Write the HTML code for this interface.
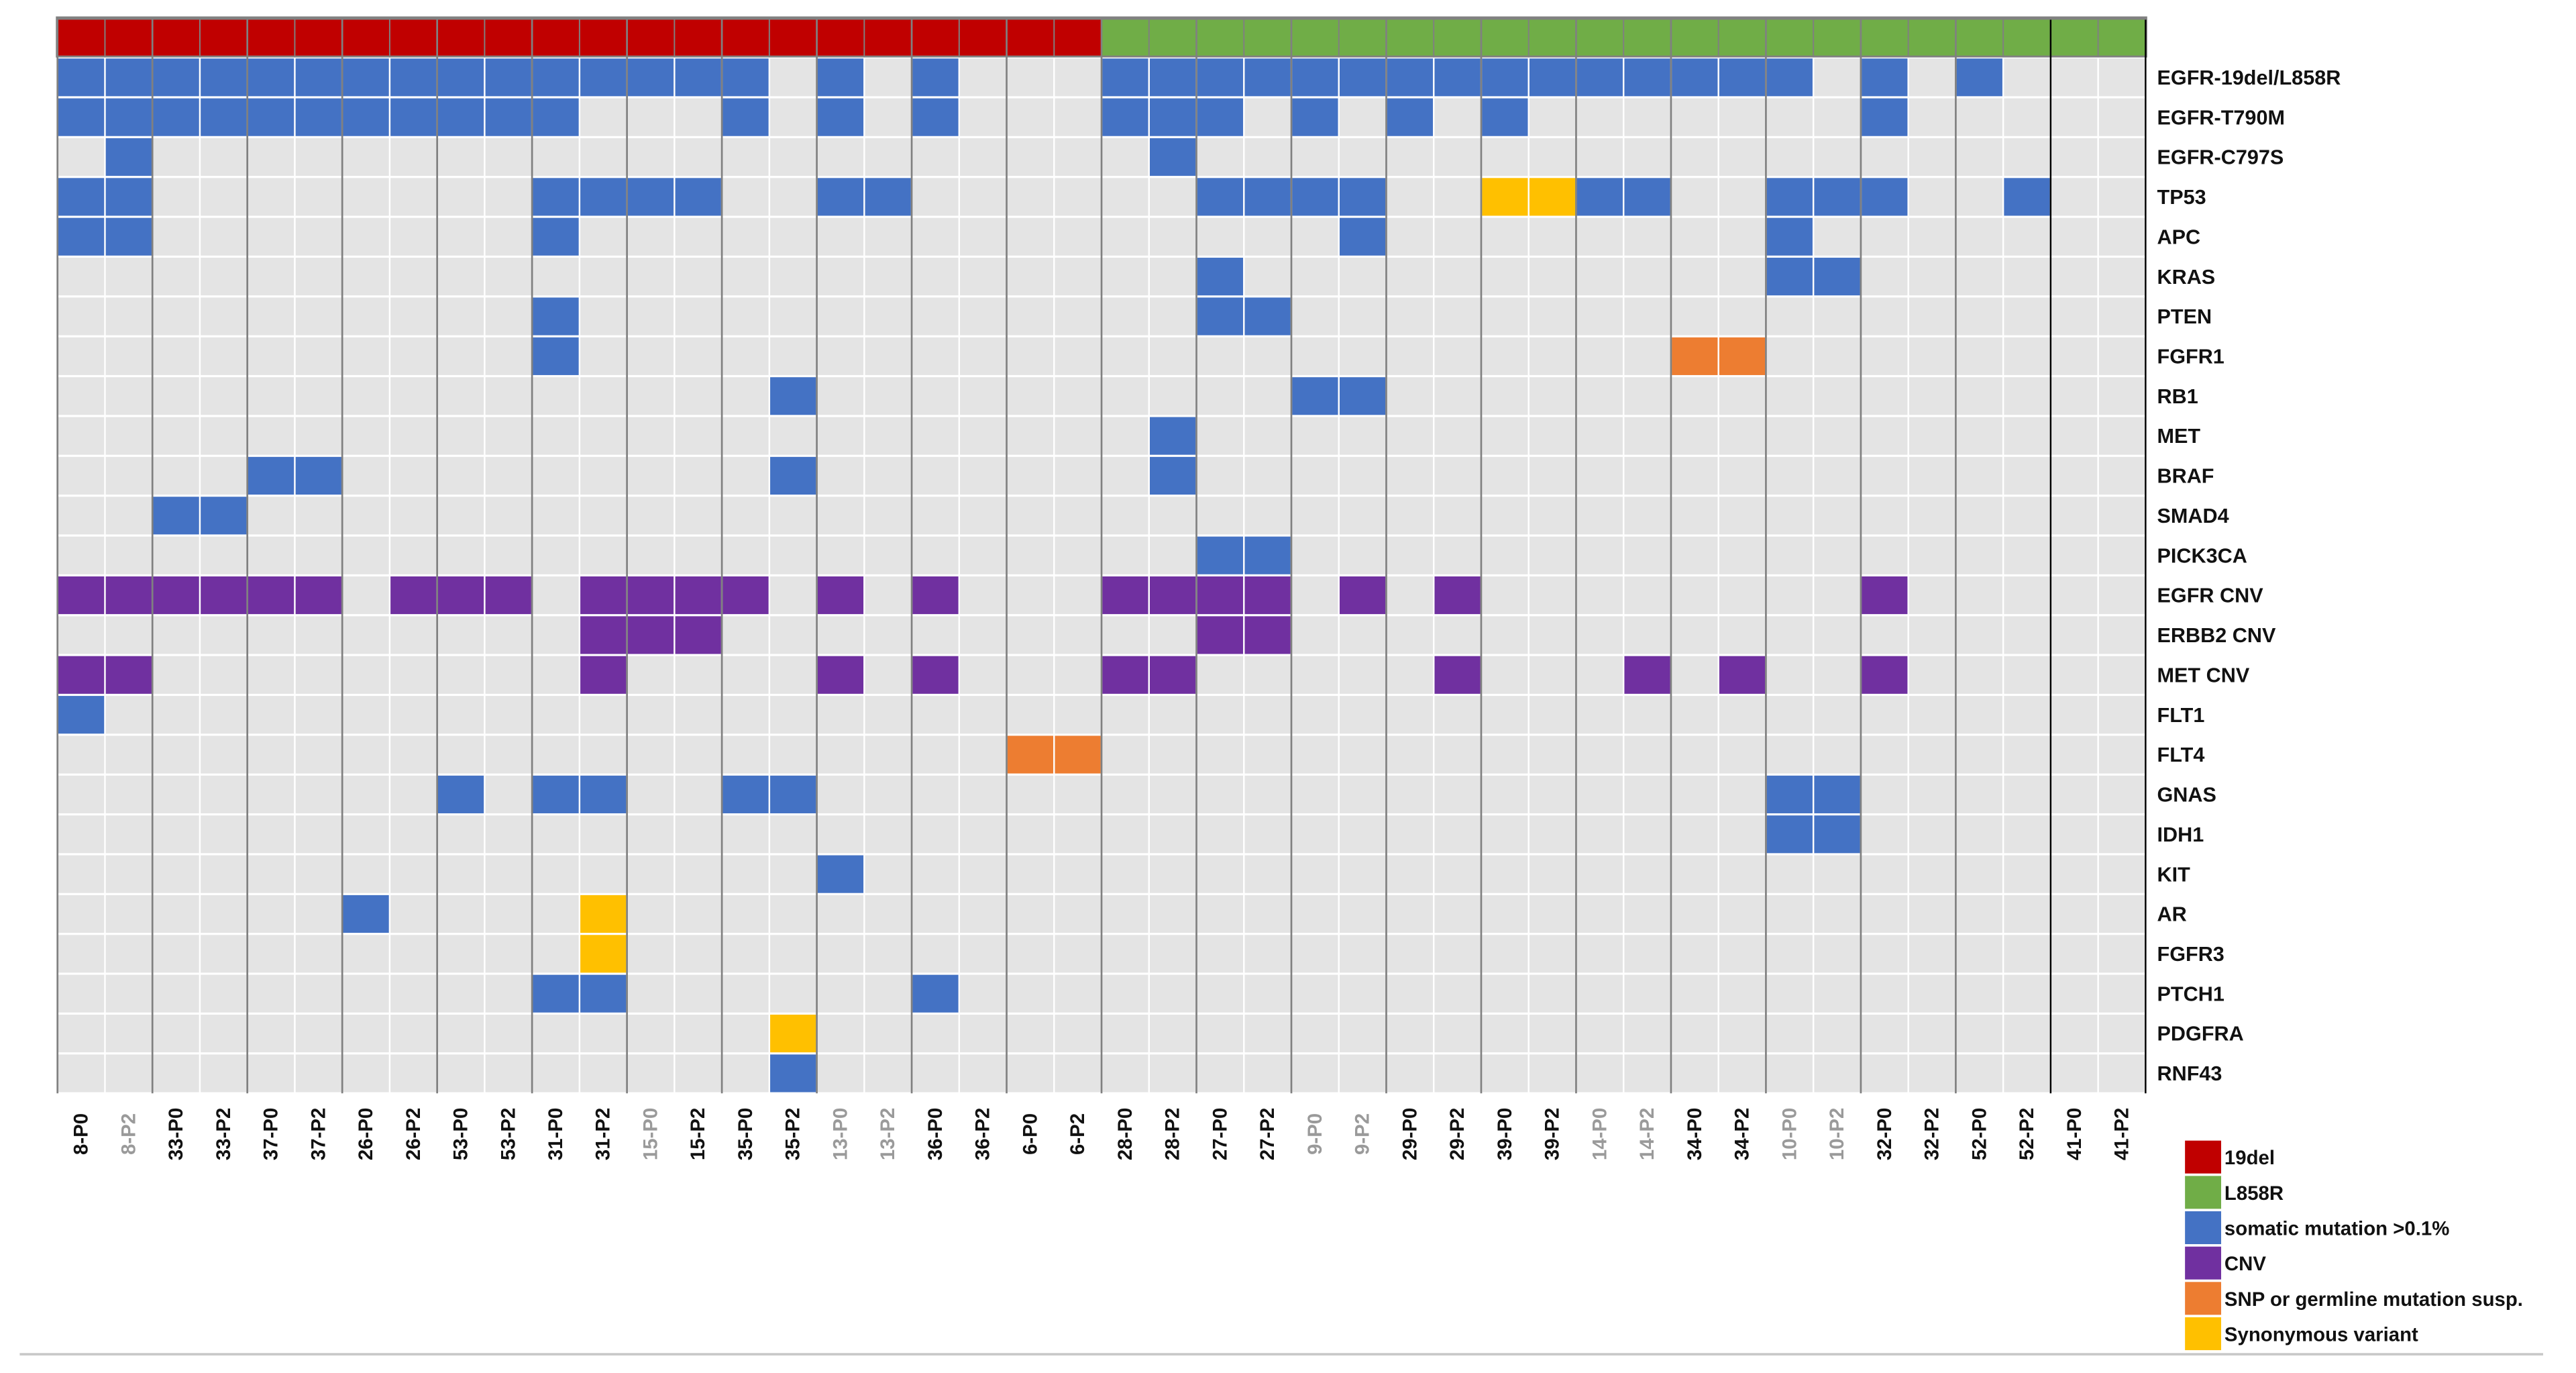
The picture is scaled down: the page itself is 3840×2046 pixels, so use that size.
<!DOCTYPE html>
<html><head><meta charset="utf-8"><style>
html,body{margin:0;padding:0;background:#fff;}
svg{display:block;}
text{font-family:"Liberation Sans",Arial,sans-serif;}
</style></head><body>
<svg id="chart" width="3840" height="2046" viewBox="0 0 1568 835.4" preserveAspectRatio="none" xmlns="http://www.w3.org/2000/svg">
<defs><clipPath id="lblclip"><rect x="1300" y="0" width="128" height="700"/></clipPath></defs>
<g id="cells"></g>
<g id="lines"></g>
<g id="genes" clip-path="url(#lblclip)"></g>
<g id="samples"></g>
<g id="legend"></g>
<line x1="12" y1="824" x2="1548" y2="824" stroke="#c8c8c8" stroke-width="1.5"/>
</svg>
<script>
const samples = ["8-P0","8-P2","33-P0","33-P2","37-P0","37-P2","26-P0","26-P2","53-P0","53-P2","31-P0","31-P2","15-P0","15-P2","35-P0","35-P2","13-P0","13-P2","36-P0","36-P2","6-P0","6-P2","28-P0","28-P2","27-P0","27-P2","9-P0","9-P2","29-P0","29-P2","39-P0","39-P2","14-P0","14-P2","34-P0","34-P2","10-P0","10-P2","32-P0","32-P2","52-P0","52-P2","41-P0","41-P2"];
const graySamples = ["8-P2","15-P0","13-P0","13-P2","9-P0","9-P2","14-P0","14-P2","10-P0","10-P2"];
const headerType = [1,1,1,1,1,1,1,1,1,1,1,1,1,1,1,1,1,1,1,1,1,1,2,2,2,2,2,2,2,2,2,2,2,2,2,2,2,2,2,2,2,2,2,2];
const genes = ["EGFR-19del/L858R","EGFR-T790M","EGFR-C797S","TP53","APC","KRAS","PTEN","FGFR1","RB1","MET","BRAF","SMAD4","PICK3CA","EGFR CNV","ERBB2 CNV","MET CNV","FLT1","FLT4","GNAS","IDH1","KIT","AR","FGFR3","PTCH1","PDGFRA","RNF43"];
// 1=somatic, 2=CNV, 3=SNP/germline, 4=synonymous ; lists of [sampleIndex, type]
const hits = [
 [[0,1],[1,1],[2,1],[3,1],[4,1],[5,1],[6,1],[7,1],[8,1],[9,1],[10,1],[11,1],[12,1],[13,1],[14,1],[16,1],[18,1],[22,1],[23,1],[24,1],[25,1],[26,1],[27,1],[28,1],[29,1],[30,1],[31,1],[32,1],[33,1],[34,1],[35,1],[36,1],[38,1],[40,1]],
 [[0,1],[1,1],[2,1],[3,1],[4,1],[5,1],[6,1],[7,1],[8,1],[9,1],[10,1],[14,1],[16,1],[18,1],[22,1],[23,1],[24,1],[26,1],[28,1],[30,1],[38,1]],
 [[1,1],[23,1]],
 [[0,1],[1,1],[10,1],[11,1],[12,1],[13,1],[16,1],[17,1],[24,1],[25,1],[26,1],[27,1],[30,4],[31,4],[32,1],[33,1],[36,1],[37,1],[38,1],[41,1]],
 [[0,1],[1,1],[10,1],[27,1],[36,1]],
 [[24,1],[36,1],[37,1]],
 [[10,1],[24,1],[25,1]],
 [[10,1],[34,3],[35,3]],
 [[15,1],[26,1],[27,1]],
 [[23,1]],
 [[4,1],[5,1],[15,1],[23,1]],
 [[2,1],[3,1]],
 [[24,1],[25,1]],
 [[0,2],[1,2],[2,2],[3,2],[4,2],[5,2],[7,2],[8,2],[9,2],[11,2],[12,2],[13,2],[14,2],[16,2],[18,2],[22,2],[23,2],[24,2],[25,2],[27,2],[29,2],[38,2]],
 [[11,2],[12,2],[13,2],[24,2],[25,2]],
 [[0,2],[1,2],[11,2],[16,2],[18,2],[22,2],[23,2],[29,2],[33,2],[35,2],[38,2]],
 [[0,1]],
 [[20,3],[21,3]],
 [[8,1],[10,1],[11,1],[14,1],[15,1],[36,1],[37,1]],
 [[36,1],[37,1]],
 [[16,1]],
 [[6,1],[11,4]],
 [[11,4]],
 [[10,1],[11,1],[18,1]],
 [[15,4]],
 [[15,1]]
];
const legendLabels = ["19del","L858R","somatic mutation >0.1%","CNV","SNP or germline mutation susp.","Synonymous variant"];

const NS="http://www.w3.org/2000/svg";
const colors = {0:"#E4E4E4",1:"#4472C4",2:"#7030A0",3:"#ED7D31",4:"#FFC000"};
const headColors = {1:"#C00000",2:"#70AD47"};
const legendColors = ["#C00000","#70AD47","#4472C4","#7030A0","#ED7D31","#FFC000"];
const X0=35, X1=1306, HT=12, RT=35, RH=24.24;
const PW=(X1-X0)/samples.length;
const xOf=i=>X0+i*PW;
const yOf=r=>RT+r*RH;
function mk(tag,attrs,parent){const e=document.createElementNS(NS,tag);for(const k in attrs)e.setAttribute(k,attrs[k]);parent.appendChild(e);return e;}
const cells=document.getElementById('cells');
mk('rect',{x:X0-1,y:HT-2,width:X1-X0+2,height:RT-HT+2,fill:"#808080"},cells);
mk('rect',{x:X0,y:RT,width:X1-X0,height:26*RH,fill:"#fff"},cells);
headerType.forEach((t,i)=>{
  const r=mk('rect',{x:xOf(i)+0.4,y:HT,width:PW-0.8,height:RT-HT-1.2,fill:headColors[t]},cells);
  
  
});
genes.forEach((g,r)=>{
  const row=new Array(samples.length).fill(0);
  hits[r].forEach(h=>{row[h[0]]=h[1];});
  row.forEach((v,i)=>{
    const c=mk('rect',{x:xOf(i)+0.5,y:yOf(r)+0.6,width:PW-1,height:RH-1.3,fill:colors[v]},cells);
    
    
  });
});
const lines=document.getElementById('lines');
for(let i=0;i<=samples.length;i+=2){
  const black=(i===42||i===44);
  const l=mk('line',{x1:xOf(i),x2:xOf(i),y1:HT,y2:yOf(26),stroke:black?"#000":"#808080","stroke-width":black?1:1.1},lines);
  
  
}
const gl=document.getElementById('genes');
genes.forEach((g,r)=>{
  const t=mk('text',{x:1313,y:yOf(r)+RH/2+4.3,"font-size":"12.5","font-weight":"bold",fill:"#111"},gl);
  t.textContent=g;
  
  
});
const sl=document.getElementById('samples');
samples.forEach((s,i)=>{
  const cx=xOf(i)+PW/2, cy=690;
  const t=mk('text',{x:cx,y:cy,transform:`rotate(-90 ${cx} ${cy})`,"text-anchor":"middle","dominant-baseline":"central","font-size":"12","font-weight":"bold",fill:graySamples.includes(s)?"#9a9a9a":"#111"},sl);
  t.textContent=s;
  
  
});
const lg=document.getElementById('legend');
const ly=[694,715.5,737,758.5,780,801.5];
legendLabels.forEach((lab,k)=>{
  const r=mk('rect',{x:1330,y:ly[k],width:22,height:20,fill:legendColors[k]},lg);
  
  
  const t=mk('text',{x:1354,y:ly[k]+14.5,"font-size":"12","font-weight":"bold",fill:"#111"},lg);
  t.textContent=lab;
  
  
});
</script>
</body></html>
